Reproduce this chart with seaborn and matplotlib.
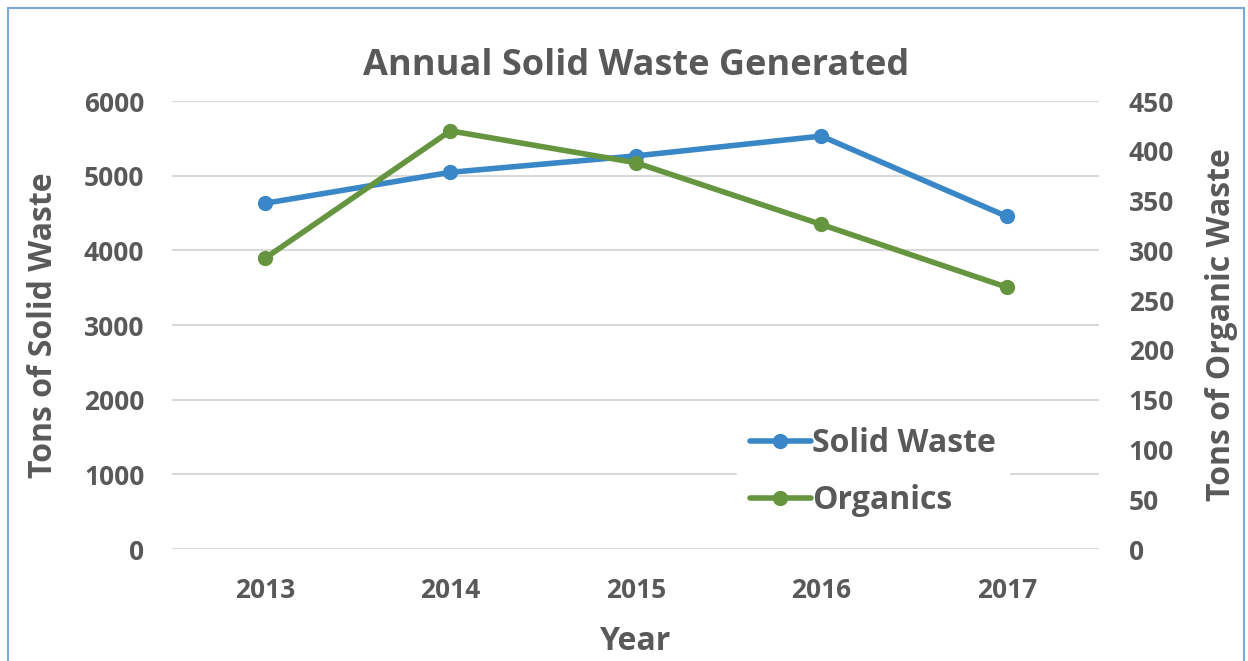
import matplotlib
matplotlib.use("Agg")
import pandas as pd
import seaborn as sns
import matplotlib.pyplot as plt
from matplotlib.patches import Rectangle

# Data
years = ["2013", "2014", "2015", "2016", "2017"]
solid_waste = [4630, 5045, 5265, 5530, 4455]
organics = [292, 420, 388, 326, 263]

df = pd.DataFrame({"Year": years, "Solid Waste": solid_waste, "Organics": organics})

sns.set_style("white")
plt.rcParams["font.family"] = ["Open Sans", "DejaVu Sans"]
plt.rcParams["font.weight"] = "bold"

text_col = "#595959"
blue = "#3A87C8"
green = "#66953F"
grid_col = "#D9D9D9"

fig = plt.figure(figsize=(12.48, 6.61), dpi=100)
ax = fig.add_axes([0.138, 0.1694, 0.743, 0.6778])
ax2 = ax.twinx()

sns.lineplot(data=df, x="Year", y="Solid Waste", ax=ax, color=blue, lw=4,
             marker="o", markersize=11, markeredgewidth=0, label="Solid Waste", legend=False)
sns.lineplot(data=df, x="Year", y="Organics", ax=ax2, color=green, lw=4,
             marker="o", markersize=11, markeredgewidth=0, label="Organics", legend=False)

ax.set_xlim(-0.5, 4.5)
ax.set_ylim(0, 6000)
ax2.set_ylim(0, 450)
ax.set_yticks(range(0, 6001, 1000))
ax2.set_yticks(range(0, 451, 50))

ax.yaxis.grid(True, color=grid_col, lw=1.5)
ax.set_axisbelow(True)
for a in (ax, ax2):
    for s in a.spines.values():
        s.set_visible(False)
    a.tick_params(length=0, labelsize=19, labelcolor=text_col)
    for lab in a.get_xticklabels() + a.get_yticklabels():
        lab.set_fontweight("bold")
ax.tick_params(axis="x", pad=20)
ax.tick_params(axis="y", pad=20)
ax2.tick_params(axis="y", pad=21)

ax.set_xlabel("Year", fontsize=23, fontweight="bold", color=text_col, labelpad=15)
ax.set_ylabel("Tons of Solid Waste", fontsize=23, fontweight="bold", color=text_col, labelpad=17)
ax2.set_ylabel("Tons of Organic Waste", fontsize=23, fontweight="bold", color=text_col, labelpad=22)
ax.set_title("Annual Solid Waste Generated", fontsize=26, fontweight="bold",
             color=text_col, pad=19)

h1, l1 = ax.get_legend_handles_labels()
h2, l2 = ax2.get_legend_handles_labels()
leg = ax2.legend(h1 + h2, l1 + l2, loc="upper left", bbox_to_anchor=(0.592, 0.336),
                 frameon=True, facecolor="white", edgecolor="white", framealpha=1,
                 fontsize=23, handlelength=1.9, handletextpad=0.05, labelspacing=0.75,
                 borderpad=0.4, fancybox=False)
for t in leg.get_texts():
    t.set_color(text_col)
    t.set_fontweight("bold")

# light blue frame around the chart area
fig.patches.append(Rectangle((8 / 1248, -0.05), 1236 / 1248, 1 - 8 / 661 + 0.05,
                             transform=fig.transFigure, fill=False,
                             edgecolor="#7AA7D8", lw=1.5))

fig.savefig("out.png", dpi=100)
